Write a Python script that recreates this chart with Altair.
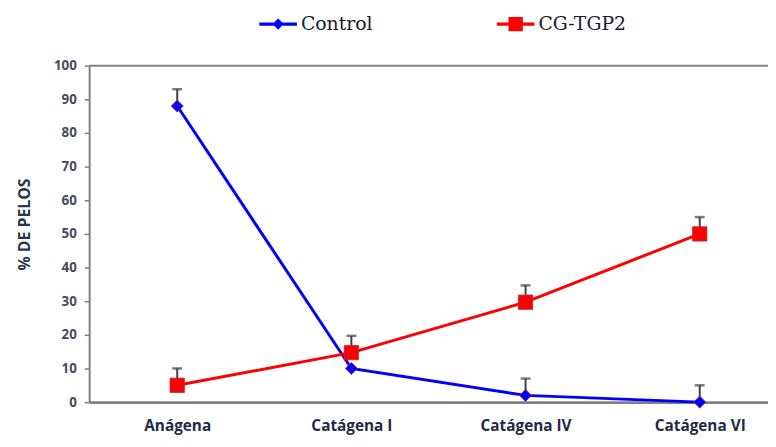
import altair as alt
import pandas as pd

categories = ["Anágena", "Catágena I", "Catágena IV", "Catágena VI"]
series_names = ["Control", "CG-TGP2"]
control_vals = [88, 10, 2, 0]
control_err = [5, 0, 5, 5]
cg_vals = [5, 14.7, 29.7, 50]
cg_err = [5, 5, 5, 5]
y_ticks = [0, 10, 20, 30, 40, 50, 60, 70, 80, 90, 100]
colors = ["#0000FF", "#FF0000"]

rows = []
for s, vals, errs in [(series_names[0], control_vals, control_err), (series_names[1], cg_vals, cg_err)]:
    for i, (c, v, e) in enumerate(zip(categories, vals, errs)):
        rows.append({"stage": c, "idx": i, "series": s, "value": v, "upper": v + e, "err": e})
df = pd.DataFrame(rows)
df_err = df[df["err"] > 0]

label_expr = " : ".join(
    [f"datum.value == {i} ? '{c}'" for i, c in enumerate(categories)]) + " : ''"

x_scale = alt.Scale(domain=[-0.5057, 3.392], nice=False, zero=False)
x_enc = alt.X("idx:Q", scale=x_scale,
              axis=alt.Axis(title=None, values=list(range(len(categories))), labelExpr=label_expr,
                            labelAngle=0, ticks=False, grid=False, labelPadding=17,
                            labelFont="Open Sans", labelFontSize=15.5, labelFontWeight="bold",
                            labelColor="#1F2A44", domainColor="#808080", domainWidth=3))
y_scale = alt.Scale(domain=[0, 100], nice=False, zero=True)
y_enc = alt.Y("value:Q", scale=y_scale,
              axis=alt.Axis(title="% DE PELOS", values=y_ticks, tickCount=11, labelOverlap=False,
                            grid=False, tickSize=5,
                            tickColor="#808080", tickWidth=1.5, labelPadding=8,
                            labelFont="Open Sans", labelFontSize=13.5, labelFontWeight="bold",
                            labelColor="#4A4A5A", domainColor="#808080", domainWidth=2,
                            titleFont="Open Sans", titleFontSize=16, titleFontWeight="bold",
                            titleColor="#2A3550", titlePadding=21, titleY=160))

color_scale = alt.Scale(domain=series_names, range=colors)

base = alt.Chart(df)

lines = base.mark_line(strokeWidth=3).encode(
    x=x_enc, y=y_enc,
    color=alt.Color("series:N", scale=color_scale, legend=None),
    order=alt.Order("series:N", sort="descending"))

frame_top = alt.Chart(pd.DataFrame({"value": [100]})).mark_rule(color="#808080", strokeWidth=2).encode(
    y=alt.Y("value:Q"))

err_rules = alt.Chart(df_err).mark_rule(color="#404040", strokeWidth=2).encode(
    x=alt.X("idx:Q"), y=alt.Y("value:Q"), y2="upper:Q")
err_caps = alt.Chart(df_err).mark_tick(color="#404040", thickness=2.5, size=10, orient="horizontal").encode(
    x=alt.X("idx:Q"), y=alt.Y("upper:Q"))

points = base.mark_point(filled=True, opacity=1, stroke="#B03030", strokeWidth=0.8).encode(
    x=alt.X("idx:Q"), y=alt.Y("value:Q"),
    fill=alt.Fill("series:N", scale=color_scale, legend=None),
    shape=alt.Shape("series:N", scale=alt.Scale(domain=series_names, range=["diamond", "square"]), legend=None),
    size=alt.Size("series:N", scale=alt.Scale(domain=series_names, range=[150, 210]), legend=None))

path_control = "M-1,-0.09L1,-0.09L1,0.09L-1,0.09Z M0,-0.3L0.3,0L0,0.3L-0.3,0Z"
path_cg = "M-1,-0.09L1,-0.09L1,0.09L-1,0.09Z M-0.38,-0.38L0.38,-0.38L0.38,0.38L-0.38,0.38Z"

legend_layer = base.mark_point(filled=True, size=0, opacity=1).encode(
    x=alt.X("idx:Q"), y=alt.Y("value:Q"),
    color=alt.Color("series:N", scale=color_scale,
                    legend=alt.Legend(title=None, orient="none", direction="horizontal",
                                      legendX=172, legendY=-61, symbolSize=1444,
                                      symbolOpacity=1, labelFont="DejaVu Serif", labelFontSize=19,
                                      labelColor="#1a1a2a", labelOffset=4, columnPadding=125,
                                      symbolStrokeWidth=0)),
    shape=alt.Shape("series:N", scale=alt.Scale(domain=series_names, range=[path_control, path_cg])))

chart = alt.layer(lines, frame_top, err_rules, err_caps, points, legend_layer).resolve_scale(
    color="independent", shape="independent", fill="independent", size="independent"
).properties(
    width=686, height=340,
    padding={"left": 82, "top": 56, "right": 0, "bottom": 35},
    autosize=alt.AutoSizeParams(type="none"),
    background="white",
).configure_view(stroke=None)

chart.save("out.html", embed_options={"renderer": "svg", "actions": False})
